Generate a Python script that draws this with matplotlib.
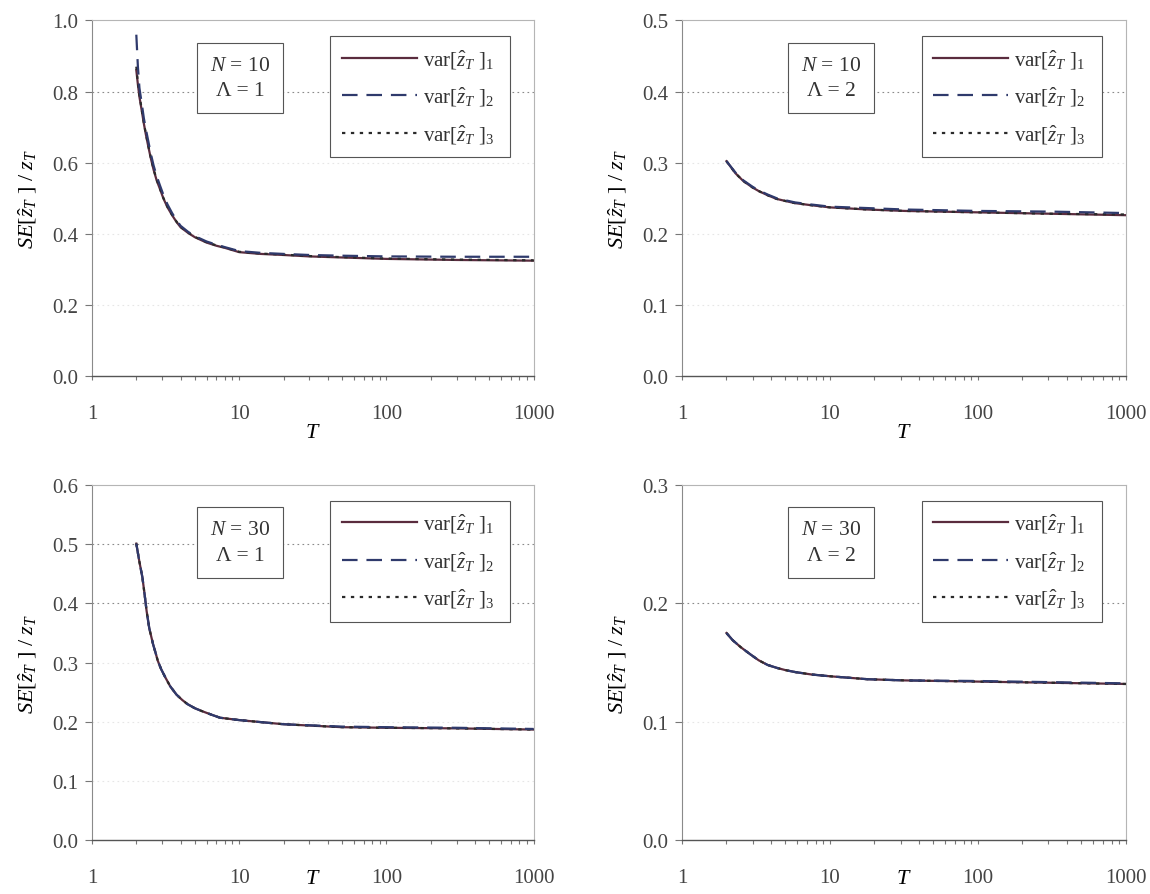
import numpy as np
import matplotlib
matplotlib.use("Agg")
import matplotlib.pyplot as plt
from matplotlib.ticker import FixedLocator, NullFormatter

plt.rcParams['font.family'] = ['Liberation Serif', 'DejaVu Serif']
plt.rcParams['mathtext.fontset'] = 'custom'
plt.rcParams['mathtext.rm'] = 'Liberation Serif'
plt.rcParams['mathtext.it'] = 'Liberation Serif:italic'

# N = 10, Lambda = 1
T_a = [2.0, 2.05, 2.1, 2.18, 2.25, 2.32, 2.4, 2.5, 2.62, 2.75, 2.9, 3.05, 3.25, 3.5, 3.75, 4.0, 4.5, 5.0, 6.0, 7.0, 8.0, 10, 14, 20, 30, 50, 100, 300, 1000]
var1_a = [0.86, 0.82, 0.785, 0.745, 0.71, 0.68, 0.65, 0.615, 0.58, 0.55, 0.525, 0.5, 0.475, 0.452, 0.433, 0.418, 0.402, 0.39, 0.375, 0.366, 0.36, 0.348, 0.343, 0.340, 0.336, 0.333, 0.329, 0.326, 0.324]
var2_a = [0.96, 0.87, 0.81, 0.765, 0.725, 0.695, 0.665, 0.628, 0.592, 0.562, 0.535, 0.51, 0.483, 0.458, 0.438, 0.422, 0.405, 0.393, 0.378, 0.369, 0.362, 0.351, 0.346, 0.343, 0.340, 0.338, 0.336, 0.335, 0.335]
var3_a = [0.87, 0.825, 0.79, 0.748, 0.712, 0.682, 0.652, 0.617, 0.582, 0.552, 0.526, 0.501, 0.476, 0.453, 0.434, 0.419, 0.403, 0.391, 0.376, 0.367, 0.361, 0.349, 0.344, 0.341, 0.337, 0.334, 0.330, 0.327, 0.325]

# N = 10, Lambda = 2
T_b = [2, 2.3, 2.6, 3.0, 3.3, 3.8, 4.35, 5.0, 5.8, 7.5, 10, 18, 32, 100, 320, 1000]
var1_b = [0.302, 0.285, 0.274, 0.265, 0.260, 0.254, 0.249, 0.246, 0.243, 0.240, 0.237, 0.234, 0.232, 0.230, 0.228, 0.226]
var2_b = [0.302, 0.286, 0.275, 0.266, 0.261, 0.255, 0.250, 0.247, 0.244, 0.241, 0.238, 0.236, 0.234, 0.232, 0.231, 0.229]
var3_b = [0.302, 0.285, 0.274, 0.265, 0.260, 0.254, 0.249, 0.246, 0.243, 0.240, 0.237, 0.234, 0.232, 0.230, 0.228, 0.227]

# N = 30, Lambda = 1
T_c = [2, 2.1, 2.2, 2.28, 2.35, 2.45, 2.6, 2.7, 2.8, 2.95, 3.15, 3.4, 3.75, 4.1, 4.45, 5.0, 5.6, 6.5, 7.4, 10, 20, 50, 100, 300, 1000]
var1_c = [0.501, 0.47, 0.444, 0.414, 0.387, 0.358, 0.331, 0.317, 0.303, 0.289, 0.275, 0.26, 0.246, 0.237, 0.230, 0.223, 0.218, 0.212, 0.207, 0.203, 0.196, 0.191, 0.190, 0.189, 0.187]
var2_c = [0.501, 0.47, 0.444, 0.414, 0.387, 0.358, 0.331, 0.317, 0.303, 0.289, 0.275, 0.26, 0.246, 0.237, 0.230, 0.223, 0.218, 0.212, 0.207, 0.203, 0.196, 0.192, 0.191, 0.190, 0.188]
var3_c = [0.501, 0.47, 0.444, 0.414, 0.387, 0.358, 0.331, 0.317, 0.303, 0.289, 0.275, 0.26, 0.246, 0.237, 0.230, 0.223, 0.218, 0.212, 0.207, 0.203, 0.196, 0.191, 0.190, 0.189, 0.187]

# N = 30, Lambda = 2
T_d = [2, 2.2, 2.5, 2.9, 3.3, 3.8, 4.4, 5.0, 5.85, 7.5, 10, 18, 32, 100, 320, 1000]
var1_d = [0.175, 0.169, 0.163, 0.157, 0.152, 0.148, 0.1455, 0.1437, 0.142, 0.140, 0.1385, 0.136, 0.135, 0.134, 0.133, 0.132]
var2_d = [0.175, 0.169, 0.163, 0.157, 0.152, 0.148, 0.1455, 0.1437, 0.142, 0.140, 0.1385, 0.136, 0.135, 0.1345, 0.1335, 0.1325]
var3_d = [0.175, 0.169, 0.163, 0.157, 0.152, 0.148, 0.1455, 0.1437, 0.142, 0.140, 0.1385, 0.136, 0.135, 0.134, 0.133, 0.132]

panel_N = [10, 10, 30, 30]
panel_L = [1, 2, 1, 2]
y_max = [1.0, 0.5, 0.6, 0.3]
y_step = [0.2, 0.1, 0.1, 0.1]
grid_dark = [[0.8], [0.4], [0.5, 0.4], [0.2]]

series = [
    (T_a, var1_a, var2_a, var3_a),
    (T_b, var1_b, var2_b, var3_b),
    (T_c, var1_c, var2_c, var3_c),
    (T_d, var1_d, var2_d, var3_d),
]

positions = [
    [0.080, 0.579, 0.384, 0.397],
    [0.593, 0.579, 0.386, 0.397],
    [0.080, 0.060, 0.384, 0.397],
    [0.593, 0.060, 0.386, 0.397],
]

fig = plt.figure(figsize=(11.5, 8.95), dpi=100)

for i in range(4):
    ax = fig.add_axes(positions[i])
    T, v1, v2, v3 = series[i]

    ax.set_xscale('log')
    ax.set_xlim(1, 1000)
    ax.set_ylim(0, y_max[i])

    yt = np.round(np.arange(0, y_max[i] + 1e-9, y_step[i]), 2)
    ax.set_yticks(yt)
    ax.set_yticklabels([f'{v:.1f}' for v in yt])
    for v in yt[1:-1]:
        dark = v in grid_dark[i]
        ax.axhline(v, color='#8a8a8a' if dark else '#e6e6e6', lw=0.8,
                   linestyle=(0, (1.5, 3)), zorder=0)

    ax.xaxis.set_major_locator(FixedLocator([1, 10, 100, 1000]))
    ax.set_xticklabels(['1', '10', '100', '1000'])
    minors = [m * d for d in [1, 10, 100] for m in range(2, 10)]
    ax.xaxis.set_minor_locator(FixedLocator(minors))
    ax.xaxis.set_minor_formatter(NullFormatter())

    l1, = ax.plot(T, v1, color='#5a2c3e', lw=1.6, zorder=3)
    l3, = ax.plot(T, v3, color='#2a2a2a', lw=1.6, linestyle=(0, (1.5, 2.5)), zorder=4)
    l2, = ax.plot(T, v2, color='#2f3a6c', lw=1.6, linestyle=(0, (7, 4)), zorder=5)

    ax.tick_params(axis='y', direction='out', length=5, width=0.8, color='#777777',
                   labelsize=15, labelcolor='#444444', pad=5)
    ax.tick_params(axis='x', which='both', direction='out', length=3, width=0.8,
                   color='#777777', labelsize=15, labelcolor='#444444', pad=17)

    for side in ['top', 'right']:
        ax.spines[side].set_color('#b5b5b5')
        ax.spines[side].set_linewidth(0.8)
    ax.spines['left'].set_color('#8a8a8a')
    ax.spines['left'].set_linewidth(0.8)
    ax.spines['bottom'].set_color('#555555')
    ax.spines['bottom'].set_linewidth(1.0)

    ax.set_xlabel('$T$', fontsize=16, labelpad=0 if i < 2 else -13)
    ax.set_ylabel(r'$SE[\hat{z}_T\ ]\ /\ z_T$', fontsize=16, labelpad=9)

    ax.text(0.336, 0.838, f'$N$ = {panel_N[i]}\n\u039b = {panel_L[i]}',
            transform=ax.transAxes, ha='center', va='center', fontsize=15.5,
            linespacing=1.45, color='#333333',
            bbox=dict(boxstyle='square,pad=0.6', facecolor='white',
                      edgecolor='#555555', linewidth=0.8), zorder=6)

    leg = ax.legend([l1, l2, l3],
                    [r'var$[\hat{z}_T\ ]_1$', r'var$[\hat{z}_T\ ]_2$', r'var$[\hat{z}_T\ ]_3$'],
                    loc='upper left', bbox_to_anchor=(0.540, 0.955, 0.407, 0.0),
                    mode='expand', borderaxespad=0, fontsize=15, handlelength=3.6,
                    handletextpad=0.3, labelspacing=0.72, borderpad=0.55,
                    fancybox=False, framealpha=1, edgecolor='#555555')
    leg.get_frame().set_linewidth(0.8)
    leg.set_zorder(7)
    for t in leg.get_texts():
        t.set_color('#333333')

fig.savefig('out.png', dpi=100, facecolor='white')
